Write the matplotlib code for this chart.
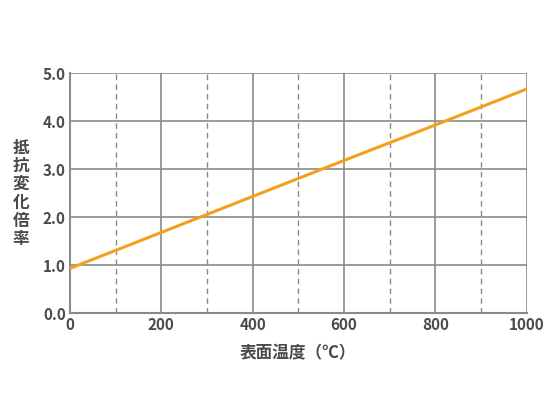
import matplotlib.pyplot as plt
import numpy as np

plt.rcParams['font.family'] = ['Noto Sans CJK JP', 'DejaVu Sans']

# values
temperature = [0, 200, 400, 600, 800, 1000]
ratio = [0.93, 1.68, 2.43, 3.18, 3.92, 4.67]

x_ticks = [0, 200, 400, 600, 800, 1000]
x_minor = [100, 300, 500, 700, 900]
y_ticks = [0, 1, 2, 3, 4, 5]
y_labels = ["0.0", "1.0", "2.0", "3.0", "4.0", "5.0"]

grid_color = "#8a8a8a"
text_color = "#4a4a4a"
line_color = "#f5a01c"

fig = plt.figure(figsize=(5.5, 4.13), dpi=100)
ax = fig.add_axes([0.127, 0.242, 0.831, 0.581])

for x in x_ticks[1:]:
    ax.axvline(x, color=grid_color, lw=1.2, zorder=1)
for x in x_minor:
    ax.axvline(x, color=grid_color, lw=1.0, ls=(0, (4, 3)), zorder=1)
for y in y_ticks[1:]:
    ax.axhline(y, color=grid_color, lw=1.2, zorder=1)

ax.plot(temperature, ratio, color=line_color, lw=2.2, zorder=3)

ax.set_xlim(0, 1000)
ax.set_ylim(0, 5)
ax.set_xticks(x_ticks)
ax.set_yticks(y_ticks)
ax.set_yticklabels(y_labels)
ax.tick_params(length=0, colors=text_color, labelsize=11, pad=3)
for lab in ax.get_xticklabels() + ax.get_yticklabels():
    lab.set_fontweight("bold")

for side in ["top", "right"]:
    ax.spines[side].set_visible(False)
for side in ["left", "bottom"]:
    ax.spines[side].set_color(grid_color)
    ax.spines[side].set_linewidth(1.5)

fig.text(0.038, 0.532, "抵\n抗\n変\n化\n倍\n率", color=text_color, fontsize=12,
         fontweight="bold", ha="center", va="center", linespacing=1.02)
fig.text(0.542, 0.145, "表面温度（℃）", color=text_color, fontsize=12,
         fontweight="bold", ha="center", va="center")

fig.savefig("out.png", dpi=100)
